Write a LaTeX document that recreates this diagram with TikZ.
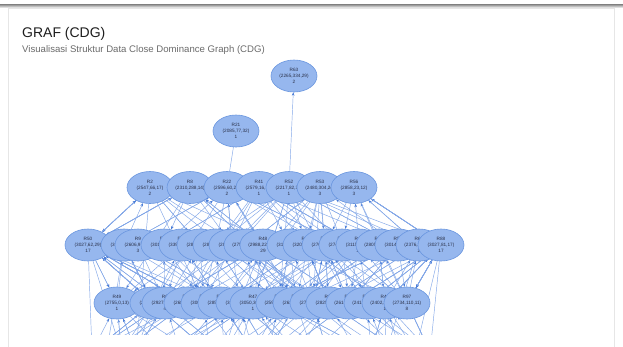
\documentclass[tikz,border=0pt]{standalone}
\usepackage{fontspec}
\setmainfont{Liberation Sans}
\usetikzlibrary{arrows.meta,shapes.geometric}
\definecolor{shade}{HTML}{F8F8F8}
\definecolor{cardline}{HTML}{E6E6E6}
\definecolor{titlec}{HTML}{1E1E1E}
\definecolor{subc}{HTML}{6B6B6B}
\definecolor{nodefill}{HTML}{96B7EE}
\definecolor{nodeline}{HTML}{6A96DF}
\definecolor{edgec}{HTML}{82A7E8}
\definecolor{tipc}{HTML}{4A7DD8}
\definecolor{labelc}{HTML}{2A3048}
\pgfdeclarelayer{back}
\pgfdeclarelayer{edges}
\pgfsetlayers{back,edges,main}
\tikzset{
  gnode/.style={ellipse, draw=nodeline, fill=nodefill, line width=0.6pt,
    minimum width=46pt, minimum height=32pt, inner sep=0pt, align=center,
    text=labelc, font=\fontsize{4.7}{6}\selectfont},
  gedge/.style={draw=edgec, line width=0.45pt,
    -{Stealth[length=3.4pt,width=2.6pt,color=tipc]}},
  gline/.style={draw=edgec, line width=0.45pt},
  titletext/.style={anchor=base west, inner sep=0pt, text=titlec,
    font=\fontsize{14}{16}\selectfont},
  subtext/.style={anchor=base west, inner sep=0pt, text=subc,
    font=\fontsize{9.6}{11}\selectfont},
}
\begin{document}
\begin{tikzpicture}[x=1pt,y=-1pt]
\useasboundingbox (0,0) rectangle (623,346);
\begin{pgfonlayer}{back}
  \fill[white] (0,0) rectangle (623,346);
  \fill[shade] (0,4) rectangle (623,8);
  \fill[white] (8,8) rectangle (614,360);
  \draw[cardline, line width=0.7pt] (8,360) -- (8,8) -- (614,8) -- (614,360);
\end{pgfonlayer}

\node[titletext] (title) at (22,37) {GRAF (CDG)};
\node[subtext] (subtitle) at (22,52) {Visualisasi Struktur Data Close Dominance Graph (CDG)};

\node[gnode] (r63) at (294,76) {R63\\(2265,334,29)\\2};
\node[gnode] (r21) at (236,131) {R21\\(2085,77,32)\\1};

\foreach \x/\n/\v/\c [count=\i] in {
  150/R2/{(2547,66,17)}/2, 190/R8/{(2310,288,14)}/1, 227/R22/{(2596,60,25)}/2,
  259/R41/{(2579,16,30)}/1, 289/R52/{(2217,82,31)}/1, 320/R53/{(2480,304,24)}/3,
  354/R56/{(2858,23,12)}/3}
  \node[gnode] (r3-\i) at (\x,187.5) {\n\\\v\\\c};

\foreach \x/\n/\v/\c [count=\i] in {
  88/R50/{(3027,62,29)}/17, 124/R7/{(3075,41,22)}/5, 138/R9/{(2606,97,20)}/3,
  164/R11/{(3012,50,27)}/9, 182/R14/{(3391,12,30)}/6, 200/R17/{(2845,70,19)}/4,
  216/R19/{(2871,45,24)}/7, 232/R24/{(2809,88,16)}/5, 247/R27/{(2753,130,21)}/2,
  263/R48/{(2988,226,29)}/29, 290/R30/{(3109,58,26)}/8, 306/R33/{(3205,40,22)}/11,
  325/R36/{(2762,95,18)}/4, 342/R39/{(2740,64,27)}/6, 359/R43/{(3115,28,20)}/10,
  379/R45/{(2805,142,15)}/3, 398/R58/{(3014,77,23)}/9, 419/R60/{(2376,210,19)}/2,
  441/R88/{(3027,81,17)}/17}
  \node[gnode] (r4-\i) at (\x,245) {\n\\\v\\\c};

\foreach \x/\n/\v/\c [count=\i] in {
  117/R49/{(2755,0,13)}/1, 153/R4/{(2690,51,18)}/2, 165/R6/{(2927,33,21)}/4,
  187/R10/{(2684,72,19)}/3, 204/R12/{(3001,18,26)}/5, 221/R15/{(2853,61,17)}/2,
  239/R18/{(3140,25,28)}/6, 253/R47/{(3050,36,24)}/1, 279/R26/{(2590,118,14)}/2,
  296/R29/{(2632,97,16)}/1, 313/R31/{(2718,84,20)}/3, 329/R35/{(2825,49,22)}/4,
  349/R38/{(2610,176,13)}/2, 367/R42/{(2418,230,15)}/1, 385/R46/{(2402,251,10)}/1,
  407/R97/{(2734,110,11)}/8}
  \node[gnode] (r5-\i) at (\x,303) {\n\\\v\\\c};

\foreach \i in {1,...,24}
  \coordinate (bt-\i) at ({92+(\i-1)*14.7},352);

\begin{pgfonlayer}{edges}
\begin{scope}
  \clip (8,55) rectangle (614,334);
  \draw[gedge] (r3-5) -- (r63);
  \draw[gline] (r21) -- (r3-3);
  \pgfmathsetseed{11}
  % row 4 -- row 5
  \foreach \k in {1,...,150}{
    \pgfmathrandominteger{\a}{1}{16}
    \pgfmathrandominteger{\o}{-6}{6}
    \pgfmathtruncatemacro{\b}{max(1,min(19,round(\a*19/16)+\o))}
    \pgfmathrandominteger{\d}{0}{1}
    \ifnum\d=0 \draw[gedge] (r5-\a) -- (r4-\b);
    \else \draw[gedge] (r4-\b) -- (r5-\a); \fi
  }
  % row 3 -- row 4
  \foreach \k in {1,...,62}{
    \pgfmathrandominteger{\a}{1}{7}
    \pgfmathrandominteger{\o}{-7}{7}
    \pgfmathtruncatemacro{\b}{max(1,min(19,round(1+(\a-1)*3)+\o))}
    \pgfmathrandominteger{\d}{0}{2}
    \ifnum\d=0 \draw[gedge] (r4-\b) -- (r3-\a);
    \else \draw[gedge] (r3-\a) -- (r4-\b); \fi
  }
  % row 3 -- row 5
  \foreach \k in {1,...,24}{
    \pgfmathrandominteger{\a}{1}{7}
    \pgfmathrandominteger{\b}{1}{16}
    \draw[gedge] (r3-\a) -- (r5-\b);
  }
  % row 5 -- below
  \foreach \k in {1,...,95}{
    \pgfmathrandominteger{\a}{1}{16}
    \pgfmathrandominteger{\o}{-6}{6}
    \pgfmathtruncatemacro{\b}{max(1,min(24,round(\a*24/16)+\o))}
    \pgfmathrandominteger{\d}{0}{1}
    \ifnum\d=0 \draw[gedge] (bt-\b) -- (r5-\a);
    \else \draw[gline] (r5-\a) -- (bt-\b); \fi
  }
  % row 4 -- below
  \draw[gline] (r4-1) -- (bt-1);
  \draw[gline] (r4-1) -- (bt-3);
  \draw[gline] (r4-2) -- (bt-2);
  \draw[gline] (r4-19) -- (bt-23);
  \draw[gline] (r4-19) -- (bt-24);
  \draw[gline] (r4-18) -- (bt-21);
  \draw[gline] (r3-7) -- (bt-24);
  \draw[gline] (r3-1) -- (bt-4);
\end{scope}
\end{pgfonlayer}
\end{tikzpicture}
\end{document}
